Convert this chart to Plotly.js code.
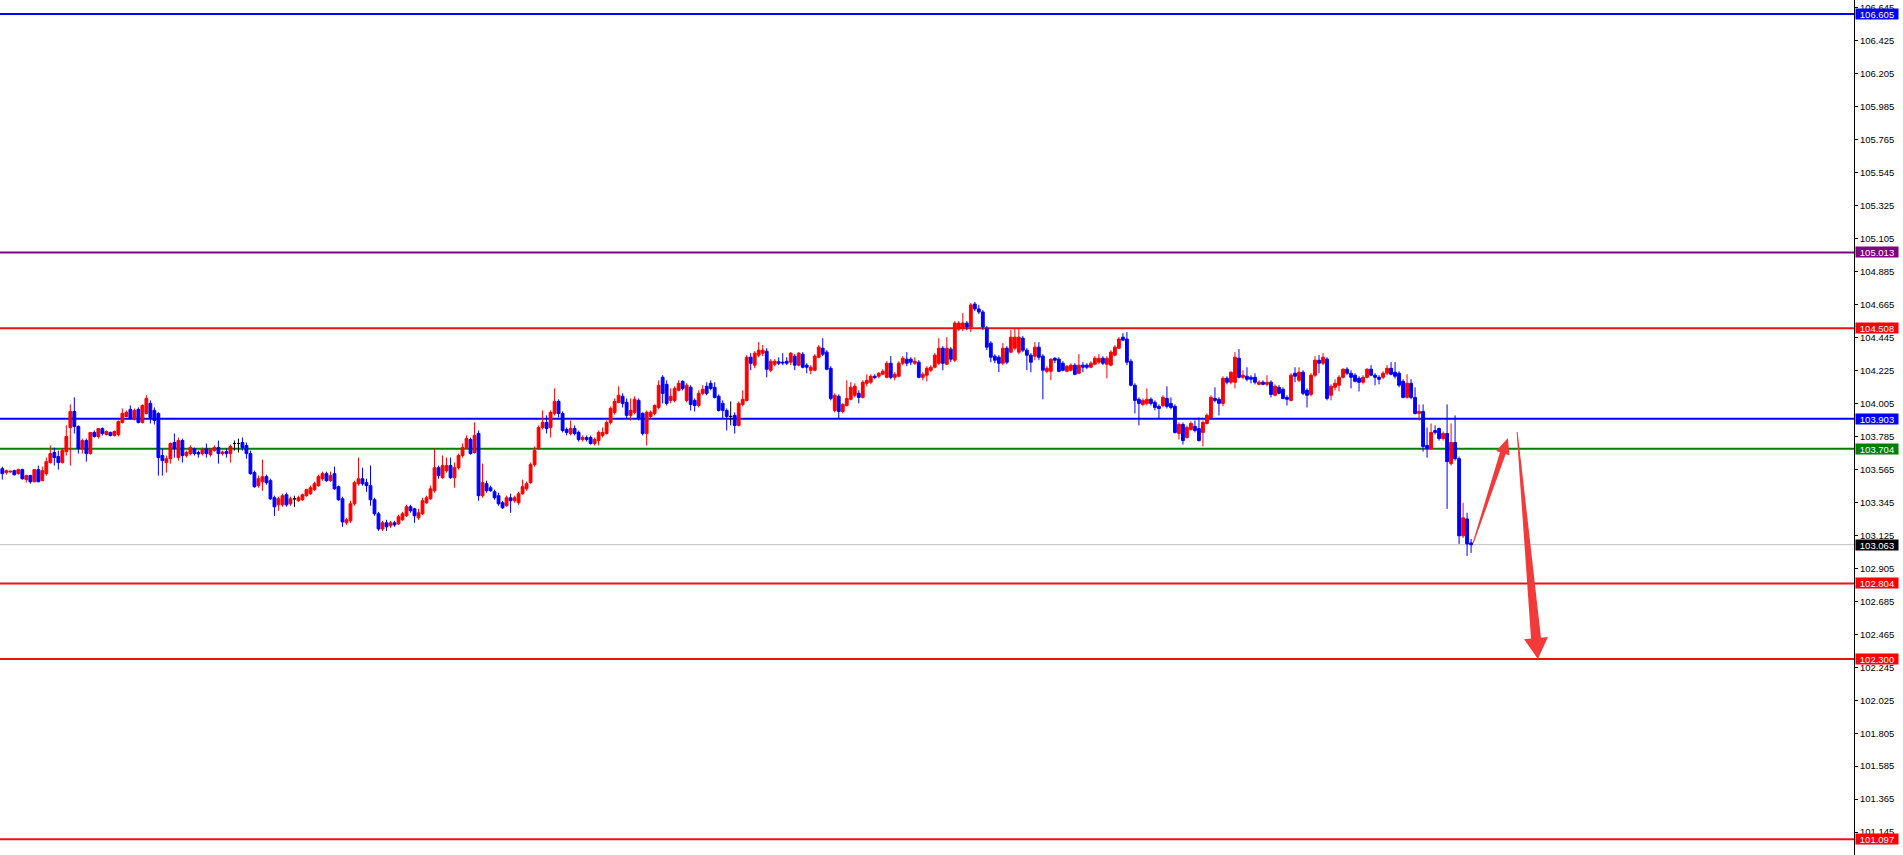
<!DOCTYPE html>
<html><head><meta charset="utf-8">
<script src="https://cdn.plot.ly/plotly-3.0.1.min.js"></script>
<style>html,body{margin:0;padding:0;background:#fff;overflow:hidden}#chart{width:1903px;height:855px}</style>
</head><body><div id="chart"></div>
<script>
// ---- candle data (bar index = position) ----
const openP = [
103.570,103.544,103.548,103.557,103.537,103.564,103.497,103.524,103.483,103.564,
103.490,103.537,103.611,103.678,103.651,103.611,103.684,103.845,103.952,103.852,
103.704,103.758,103.671,103.812,103.785,103.838,103.798,103.812,103.792,103.798,
103.879,103.919,103.966,103.905,103.966,103.879,103.939,104.006,103.959,103.939,
103.658,103.611,103.637,103.745,103.644,103.758,103.658,103.671,103.704,103.678,
103.671,103.704,103.664,103.691,103.711,103.671,103.684,103.671,103.738,103.738,
103.745,103.725,103.671,103.544,103.457,103.483,103.517,103.490,103.376,103.329,
103.329,103.396,103.336,103.369,103.356,103.363,103.390,103.403,103.430,103.457,
103.503,103.537,103.490,103.537,103.450,103.369,103.209,103.222,103.336,103.470,
103.503,103.477,103.457,103.363,103.269,103.168,103.209,103.189,103.209,103.202,
103.229,103.256,103.316,103.302,103.242,103.269,103.343,103.369,103.423,103.577,
103.510,103.557,103.591,103.510,103.577,103.658,103.711,103.765,103.678,103.805,
103.390,103.470,103.443,103.416,103.390,103.343,103.323,103.376,103.356,103.343,
103.403,103.436,103.477,103.597,103.704,103.845,103.879,103.845,103.939,104.019,
103.939,103.832,103.805,103.838,103.812,103.765,103.778,103.778,103.738,103.758,
103.792,103.805,103.879,103.946,104.013,104.053,104.013,103.926,103.946,104.026,
103.939,103.805,103.919,103.939,103.979,104.180,104.133,104.026,104.026,104.093,
104.153,104.026,104.113,104.026,103.992,104.073,104.120,104.140,104.113,104.053,
104.006,103.959,103.919,103.926,103.859,103.999,104.026,104.314,104.261,104.328,
104.341,104.354,104.227,104.267,104.284,104.281,104.287,104.281,104.321,104.261,
104.334,104.261,104.227,104.227,104.314,104.374,104.348,104.240,103.959,104.053,
103.952,103.992,104.033,104.060,104.073,104.046,104.140,104.147,104.187,104.187,
104.200,104.180,104.274,104.180,104.187,104.274,104.301,104.301,104.274,104.281,
104.180,104.194,104.227,104.247,104.274,104.374,104.267,104.368,104.294,104.502,
104.508,104.542,104.515,104.669,104.636,104.616,104.508,104.408,104.321,104.314,
104.274,104.374,104.348,104.374,104.348,104.441,104.361,104.328,104.321,104.381,
104.321,104.220,104.220,104.307,104.301,104.274,104.220,104.227,104.261,104.207,
104.261,104.261,104.247,104.267,104.281,104.307,104.267,104.261,104.328,104.374,
104.448,104.435,104.287,104.127,104.033,103.999,104.006,104.033,104.013,103.986,
103.992,104.039,104.006,103.986,103.805,103.865,103.778,103.832,103.852,103.838,
103.812,103.872,103.912,104.039,104.033,104.006,104.173,104.147,104.147,104.307,
104.180,104.187,104.180,104.180,104.133,104.147,104.133,104.147,104.060,104.113,
104.100,104.046,104.026,104.207,104.160,104.214,104.093,104.066,104.194,104.294,
104.274,104.301,104.060,104.113,104.127,104.180,104.234,104.207,104.194,104.173,
104.147,104.180,104.234,104.194,104.180,104.180,104.207,104.240,104.214,104.207,
104.153,104.046,104.140,104.046,103.939,103.952,103.725,103.704,103.825,103.838,
103.771,103.805,103.604,103.745,103.637,103.122,103.235,103.075];
const highP = [
103.584,103.564,103.557,103.564,103.570,103.570,103.530,103.530,103.564,103.591,
103.584,103.644,103.725,103.711,103.691,103.704,103.859,103.999,104.046,103.859,
103.771,103.771,103.812,103.825,103.838,103.845,103.825,103.818,103.825,103.892,
103.972,103.959,103.992,103.972,103.979,103.999,104.060,104.026,103.979,103.946,
103.704,103.658,103.745,103.805,103.778,103.771,103.691,103.725,103.711,103.691,
103.711,103.738,103.704,103.725,103.758,103.691,103.704,103.731,103.758,103.771,
103.778,103.745,103.691,103.557,103.524,103.631,103.530,103.503,103.390,103.383,
103.403,103.410,103.383,103.390,103.390,103.403,103.436,103.457,103.483,103.530,
103.550,103.550,103.550,103.584,103.457,103.383,103.242,103.356,103.490,103.644,
103.577,103.503,103.591,103.376,103.282,103.222,103.229,103.222,103.222,103.262,
103.282,103.329,103.329,103.309,103.302,103.376,103.390,103.457,103.704,103.591,
103.658,103.644,103.644,103.611,103.671,103.738,103.792,103.778,103.879,103.825,
103.604,103.490,103.457,103.430,103.410,103.356,103.390,103.403,103.390,103.416,
103.497,103.483,103.611,103.718,103.859,103.959,103.926,103.959,104.106,104.033,
103.952,103.845,103.892,103.859,103.825,103.792,103.792,103.792,103.778,103.825,
103.845,103.892,103.986,104.039,104.120,104.073,104.039,104.039,104.053,104.039,
103.946,103.959,103.959,103.999,104.160,104.194,104.160,104.106,104.120,104.160,
104.160,104.140,104.127,104.039,104.093,104.127,104.147,104.160,104.147,104.066,
104.026,103.972,104.019,103.946,104.019,104.093,104.328,104.341,104.354,104.415,
104.395,104.374,104.301,104.301,104.314,104.341,104.314,104.348,104.334,104.348,
104.348,104.274,104.261,104.334,104.395,104.441,104.361,104.254,104.073,104.066,
104.006,104.160,104.147,104.140,104.093,104.160,104.200,104.200,104.200,104.214,
104.234,104.287,104.321,104.214,104.287,104.321,104.348,104.314,104.314,104.294,
104.214,104.254,104.261,104.341,104.441,104.388,104.448,104.381,104.555,104.555,
104.609,104.555,104.676,104.683,104.663,104.629,104.522,104.421,104.334,104.328,
104.408,104.388,104.495,104.508,104.508,104.455,104.374,104.341,104.415,104.415,
104.334,104.254,104.307,104.314,104.314,104.287,104.261,104.274,104.274,104.334,
104.281,104.274,104.287,104.321,104.334,104.321,104.321,104.361,104.395,104.448,
104.475,104.482,104.301,104.140,104.046,104.039,104.106,104.046,104.026,103.999,
104.060,104.120,104.046,103.999,103.879,103.879,103.859,103.885,103.892,103.912,
103.892,103.939,104.060,104.113,104.046,104.187,104.187,104.220,104.348,104.368,
104.227,104.247,104.194,104.207,104.160,104.160,104.194,104.160,104.133,104.127,
104.113,104.060,104.207,104.247,104.247,104.227,104.106,104.207,104.321,104.328,
104.341,104.314,104.133,104.167,104.194,104.240,104.247,104.227,104.207,104.187,
104.194,104.240,104.261,104.207,104.194,104.220,104.261,104.281,104.281,104.220,
104.167,104.200,104.167,104.113,103.999,103.999,103.845,103.872,103.859,103.845,
103.818,103.999,103.872,103.926,103.651,103.343,103.276,103.101];
const lowP = [
103.497,103.530,103.544,103.524,103.530,103.497,103.477,103.470,103.480,103.480,
103.487,103.524,103.604,103.591,103.564,103.604,103.658,103.591,103.805,103.671,
103.671,103.617,103.664,103.778,103.771,103.792,103.792,103.785,103.785,103.785,
103.872,103.912,103.899,103.892,103.872,103.872,103.932,103.872,103.865,103.524,
103.524,103.544,103.604,103.644,103.624,103.611,103.644,103.658,103.658,103.644,
103.658,103.644,103.651,103.684,103.604,103.658,103.644,103.611,103.691,103.678,
103.691,103.637,103.530,103.443,103.443,103.423,103.463,103.363,103.255,103.289,
103.316,103.316,103.323,103.316,103.349,103.356,103.383,103.396,103.423,103.450,
103.490,103.483,103.483,103.430,103.356,103.182,103.195,103.209,103.323,103.457,
103.457,103.416,103.323,103.256,103.155,103.155,103.155,103.175,103.182,103.195,
103.222,103.249,103.276,103.209,103.229,103.262,103.336,103.363,103.410,103.503,
103.503,103.544,103.503,103.443,103.564,103.644,103.704,103.664,103.671,103.356,
103.376,103.410,103.416,103.363,103.323,103.302,103.316,103.276,103.343,103.329,
103.396,103.423,103.470,103.584,103.698,103.832,103.805,103.778,103.926,103.912,
103.812,103.792,103.792,103.792,103.751,103.751,103.751,103.731,103.725,103.725,
103.778,103.798,103.865,103.932,104.006,103.979,103.905,103.892,103.932,103.892,
103.792,103.725,103.905,103.926,103.966,104.006,103.992,104.006,104.013,104.086,
104.093,104.013,103.959,103.952,103.979,104.060,104.060,104.093,104.039,103.952,
103.905,103.825,103.859,103.805,103.852,103.986,104.019,104.227,104.240,104.314,
104.321,104.180,104.214,104.254,104.261,104.261,104.261,104.261,104.227,104.254,
104.240,104.207,104.200,104.220,104.307,104.321,104.227,104.026,103.946,103.905,
103.939,103.986,104.026,104.046,104.006,104.039,104.120,104.133,104.167,104.173,
104.194,104.173,104.167,104.160,104.180,104.261,104.254,104.261,104.261,104.173,
104.160,104.153,104.214,104.240,104.261,104.227,104.261,104.281,104.281,104.488,
104.488,104.495,104.482,104.622,104.602,104.495,104.361,104.281,104.274,104.214,
104.261,104.267,104.341,104.361,104.334,104.348,104.227,104.214,104.294,104.294,
104.033,104.207,104.160,104.274,104.214,104.220,104.214,104.220,104.194,104.200,
104.214,104.234,104.240,104.261,104.267,104.261,104.173,104.254,104.321,104.368,
104.421,104.261,104.120,103.939,103.859,103.986,103.992,103.992,103.959,103.905,
103.979,103.972,103.966,103.805,103.765,103.731,103.771,103.825,103.812,103.751,
103.718,103.865,103.905,104.013,103.926,103.986,104.133,104.133,104.106,104.173,
104.167,104.153,104.140,104.133,104.127,104.127,104.120,104.046,104.053,104.066,
104.033,103.992,104.019,104.147,104.147,104.060,103.979,104.053,104.180,104.207,
104.261,104.026,104.026,104.093,104.086,104.173,104.194,104.106,104.147,104.086,
104.133,104.173,104.187,104.127,104.133,104.167,104.194,104.194,104.173,104.113,
104.039,104.039,104.033,103.932,103.892,103.684,103.644,103.698,103.798,103.758,
103.758,103.302,103.591,103.624,103.068,103.108,102.988,103.008];
const closeP = [
103.537,103.557,103.553,103.530,103.564,103.503,103.524,103.483,103.564,103.483,
103.557,103.617,103.671,103.644,103.611,103.691,103.785,103.952,103.852,103.704,
103.758,103.671,103.812,103.785,103.838,103.805,103.818,103.792,103.818,103.885,
103.939,103.946,103.905,103.959,103.879,103.992,104.039,103.912,103.892,103.644,
103.624,103.637,103.738,103.704,103.758,103.658,103.678,103.711,103.671,103.668,
103.698,103.671,103.698,103.711,103.671,103.681,103.671,103.718,103.738,103.738,
103.711,103.671,103.537,103.450,103.503,103.517,103.477,103.369,103.316,103.369,
103.390,103.329,103.369,103.369,103.376,103.396,103.430,103.443,103.470,103.517,
103.537,103.490,103.524,103.436,103.363,103.215,103.229,103.336,103.477,103.503,
103.470,103.457,103.363,103.269,103.168,103.209,103.182,103.209,103.195,103.249,
103.269,103.316,103.289,103.256,103.276,103.356,103.376,103.436,103.577,103.524,
103.591,103.591,103.510,103.577,103.658,103.711,103.771,103.671,103.792,103.390,
103.477,103.423,103.423,103.376,103.336,103.309,103.376,103.356,103.376,103.403,
103.450,103.470,103.597,103.691,103.845,103.879,103.838,103.946,104.019,103.939,
103.825,103.812,103.838,103.805,103.765,103.778,103.765,103.738,103.765,103.812,
103.812,103.879,103.972,104.019,104.060,104.006,103.926,103.959,104.033,103.905,
103.805,103.946,103.946,103.992,104.127,104.073,104.006,104.053,104.106,104.140,
104.106,104.127,103.999,103.992,104.073,104.100,104.073,104.106,104.046,103.959,
103.959,103.919,103.919,103.859,104.006,104.033,104.314,104.274,104.341,104.361,
104.361,104.234,104.287,104.287,104.274,104.276,104.274,104.341,104.261,104.341,
104.247,104.247,104.247,104.321,104.381,104.334,104.234,104.039,104.060,103.952,
103.999,104.039,104.113,104.120,104.046,104.147,104.160,104.187,104.180,104.207,
104.220,104.274,104.180,104.200,104.274,104.307,104.274,104.281,104.287,104.180,
104.200,104.240,104.247,104.328,104.374,104.274,104.374,104.301,104.542,104.542,
104.542,104.515,104.663,104.636,104.616,104.515,104.381,104.314,104.294,104.274,
104.374,104.281,104.448,104.448,104.448,104.361,104.328,104.281,104.381,104.314,
104.227,104.240,104.301,104.294,104.220,104.227,104.254,104.261,104.200,104.261,
104.247,104.247,104.274,104.307,104.307,104.274,104.307,104.348,104.381,104.435,
104.428,104.281,104.127,104.026,104.006,104.026,104.033,104.006,103.979,103.972,
104.046,103.986,103.979,103.812,103.865,103.758,103.845,103.872,103.825,103.758,
103.879,103.926,104.046,104.026,104.006,104.173,104.147,104.214,104.314,104.180,
104.194,104.167,104.167,104.147,104.147,104.133,104.147,104.066,104.120,104.073,
104.039,104.033,104.194,104.187,104.214,104.073,104.060,104.194,104.294,104.274,
104.314,104.039,104.120,104.140,104.180,104.234,104.207,104.180,104.153,104.147,
104.180,104.234,104.194,104.180,104.167,104.207,104.240,104.200,104.187,104.127,
104.046,104.140,104.046,103.939,103.952,103.718,103.704,103.812,103.812,103.771,
103.805,103.617,103.745,103.637,103.122,103.242,103.068,103.063];

// ---- price axis ticks ----
const tickValues = [106.645,106.425,106.205,105.985,105.765,105.545,105.325,105.105,104.885,104.665,104.445,104.225,104.005,103.785,103.565,103.345,103.125,102.905,102.685,102.465,102.245,102.025,101.805,101.585,101.365,101.145];
const tickLabels = ["106.645","106.425","106.205","105.985","105.765","105.545","105.325","105.105","104.885","104.665","104.445","104.225","104.005","103.785","103.565","103.345","103.125","102.905","102.685","102.465","102.245","102.025","101.805","101.585","101.365","101.145"];

// ---- horizontal levels ----
const levelValues = [106.605, 105.013, 104.508, 103.903, 103.704, 102.804, 102.300, 101.097];
const levelLabels = ["106.605","105.013","104.508","103.903","103.704","102.804","102.300","101.097"];
const levelColors = ["#0000ff","#800080","#ee1111","#0000ff","#008000","#ee1111","#ee1111","#ee1111"];
const labelColors = ["#0000ff","#800080","#ff0000","#0000ff","#008000","#ff0000","#ff0000","#ff0000"];
const currentPrice = 103.063;
const currentLabel = "103.063";

// ---- forecast arrows: [bar index, price] of tail and tip ----
const arrowUpTail = [367.5, 103.074];
const arrowUpTip = [376.2, 103.775];
const arrowDownTail = [378.5, 103.815];
const arrowDownTip = [383.7, 102.300];

// ---- view ----
const X_RANGE = [-0.575, 462.675];
const Y_RANGE = [100.992, 106.698];
const MARGIN_R = 49;
const W = 1903, H = 855;

const idx = closeP.map((_, i) => i);
function pick(arr, set) { return set.map(i => arr[i]); }
const upIdx = idx.filter(i => closeP[i] > openP[i]);
const dnIdx = idx.filter(i => closeP[i] < openP[i]);
const djIdx = idx.filter(i => closeP[i] === openP[i]);

function candleTrace(set, color) {
  return {
    type: 'candlestick', x: set,
    open: pick(openP, set), high: pick(highP, set), low: pick(lowP, set), close: pick(closeP, set),
    increasing: {line: {color: color, width: 1}, fillcolor: color},
    decreasing: {line: {color: color, width: 1}, fillcolor: color},
    whiskerwidth: 0, hoverinfo: 'skip', showlegend: false
  };
}

const plotW = W - MARGIN_R, plotH = H;
const kx = plotW / (X_RANGE[1] - X_RANGE[0]);
const ky = plotH / (Y_RANGE[1] - Y_RANGE[0]);
function toPx(p) { return [(p[0] - X_RANGE[0]) * kx, (Y_RANGE[1] - p[1]) * ky]; }
function toData(p) { return [p[0] / kx + X_RANGE[0], Y_RANGE[1] - p[1] / ky]; }
function arrowPath(tail, tip, wTail, wBase, headLen, headHalf) {
  const T = toPx(tail), Hh = toPx(tip);
  const dx = Hh[0] - T[0], dy = Hh[1] - T[1], len = Math.hypot(dx, dy);
  const ux = dx / len, uy = dy / len, nx = -uy, ny = ux;
  const B = [Hh[0] - ux * headLen, Hh[1] - uy * headLen];
  const pts = [
    [T[0] + nx * wTail, T[1] + ny * wTail],
    [B[0] + nx * wBase, B[1] + ny * wBase],
    [B[0] + nx * headHalf, B[1] + ny * headHalf],
    Hh,
    [B[0] - nx * headHalf, B[1] - ny * headHalf],
    [B[0] - nx * wBase, B[1] - ny * wBase],
    [T[0] - nx * wTail, T[1] - ny * wTail]
  ];
  return 'M' + pts.map(p => { const d = toData(p); return d[0].toFixed(4) + ',' + d[1].toFixed(5); }).join(' L') + ' Z';
}

const shapes = [];
shapes.push({type: 'line', xref: 'paper', x0: 0, x1: 1, yref: 'y', y0: currentPrice, y1: currentPrice,
  line: {color: '#c0c0c0', width: 1}, layer: 'below'});
levelValues.forEach((v, k) => {
  shapes.push({type: 'line', xref: 'paper', x0: 0, x1: 1, yref: 'y', y0: v, y1: v,
    line: {color: levelColors[k], width: 2}, layer: 'below'});
});
shapes.push({type: 'path', xref: 'x', yref: 'y', path: arrowPath(arrowUpTail, arrowUpTip, 0.5, 3, 16, 7),
  fillcolor: '#f23a3a', line: {width: 0}, layer: 'above'});
shapes.push({type: 'path', xref: 'x', yref: 'y', path: arrowPath(arrowDownTail, arrowDownTip, 0.5, 5, 21, 12),
  fillcolor: '#f23a3a', line: {width: 0}, layer: 'above'});

const labelFont = {family: 'Liberation Sans, Arial, sans-serif', size: 9.5, color: '#ffffff'};
const annotations = levelValues.map((v, k) => ({
  xref: 'paper', x: 1, xanchor: 'left', xshift: 1, yref: 'y', y: v, yanchor: 'middle',
  text: levelLabels[k], showarrow: false, bgcolor: labelColors[k], font: labelFont,
  width: 42, height: 10, borderpad: 0, align: 'center'
}));
annotations.push({
  xref: 'paper', x: 1, xanchor: 'left', xshift: 1, yref: 'y', y: currentPrice, yanchor: 'middle',
  text: currentLabel, showarrow: false, bgcolor: '#000000', font: labelFont,
  width: 42, height: 10, borderpad: 0, align: 'center'
});

const data = [candleTrace(upIdx, '#ff0000'), candleTrace(dnIdx, '#0000ff'), candleTrace(djIdx, '#000000')];

const layout = {
  width: W, height: H,
  margin: {l: 0, r: MARGIN_R, t: 0, b: 0, pad: 0},
  paper_bgcolor: '#ffffff', plot_bgcolor: '#ffffff',
  showlegend: false, hovermode: false, dragmode: false,
  boxgap: 0.3, boxgroupgap: 0,
  xaxis: {range: X_RANGE, visible: false, rangeslider: {visible: false}, fixedrange: true},
  yaxis: {
    range: Y_RANGE, side: 'right', showgrid: false, zeroline: false,
    showline: true, linecolor: '#000000', linewidth: 1,
    ticks: 'outside', ticklen: 3, tickcolor: '#000000', tickwidth: 1,
    tickmode: 'array', tickvals: tickValues, ticktext: tickLabels,
    tickfont: {family: 'Liberation Sans, Arial, sans-serif', size: 9.5, color: '#000000'},
    fixedrange: true
  },
  shapes: shapes,
  annotations: annotations
};

Plotly.newPlot('chart', data, layout, {staticPlot: true, displayModeBar: false});
</script>
</body></html>
